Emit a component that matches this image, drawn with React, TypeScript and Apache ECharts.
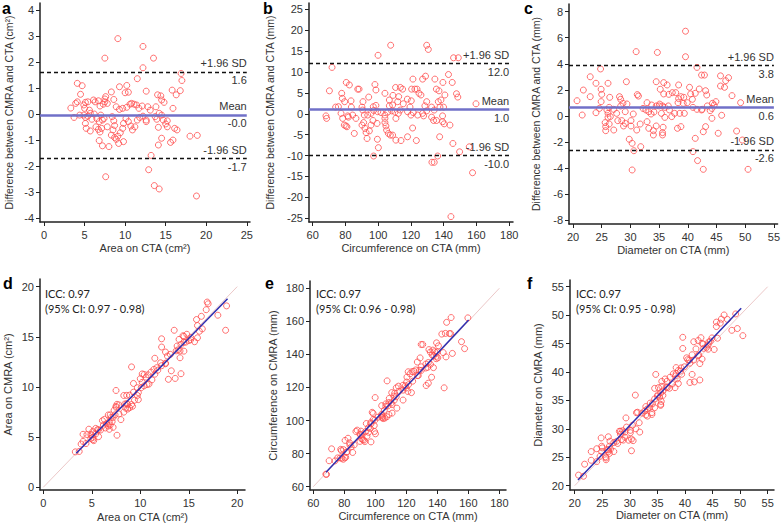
import React, { useEffect, useRef } from "react";
import * as echarts from "echarts";

const FONT = "'Liberation Sans', Arial, Helvetica, sans-serif";
const ICC_FONT = "Lato, 'Open Sans', sans-serif";

// ---- Data (x = value on CTA, diff = CMRA - CTA) ----
const areaCta = [9.1,12.2,7.5,13.5,12.2,11.5,16.9,17.0,4.1,4.7, 10.2,9.3,4.5,7.6,7.5,8.6,8.3,10.0,10.4,12.6, 14.0,14.4,15.8,16.8,16.3,14.5,14.8,3.3,3.9,4.1, 4.9,5.1,5.0,5.4,5.6,6.1,6.3,6.7,6.9,7.3, 7.5,7.8,8.9,9.3,9.7,10.2,10.6,10.8,11.1,11.4, 11.7,12.1,12.8,13.1,13.8,14.2,15.9,3.7,4.4,4.9, 5.1,5.4,5.7,5.9,6.2,6.5,6.8,7.0,7.2,7.4, 5.1,5.2,5.7,6.4,6.7,6.9,7.1,7.8,8.4,8.6, 8.7,8.5,8.3,8.7,8.9,9.1,9.4,9.7,9.8,10.1, 10.4,10.7,10.9,11.2,11.5,11.8,12.2,12.6,12.6,13.7, 13.9,14.1,14.5,14.7,15.0,15.2,15.2,16.1,16.4,14.5, 14.1,15.9,15.6,18.0,18.9,6.8,7.2,8.0,9.2,9.8, 13.2,12.9,7.6,13.6,14.2,18.8];
const areaDiff = [2.9,2.6,2.15,2.15,1.78,1.36,1.56,1.29,1.18,1.09, 1.1,1.05,0.76,0.67,0.58,0.56,0.85,0.82,0.84,0.88, 0.74,0.7,0.92,0.9,0.74,0.54,0.45,0.23,0.41,0.47, 0.35,0.45,0.22,0.47,0.15,0.54,0.47,0.51,0.31,0.38, 0.47,0.41,0.28,0.18,0.22,0.26,0.38,0.41,0.38,0.35, 0.22,0.31,0.28,0.15,0.28,0.03,0.22,-0.13,-0.04,-0.04, -0.13,-0.08,0.03,-0.2,0.0,-0.17,-0.29,-0.04,-0.23,-0.17, -0.36,-0.55,-0.65,-0.49,-0.59,-0.69,-0.55,-0.49,-0.1,-0.26, -0.44,-0.61,-0.81,-0.9,-0.97,-0.85,-0.72,-0.55,-0.36,-0.17, -0.29,-0.46,-0.61,-0.49,-0.23,-0.13,-0.08,-0.23,-0.29,-0.1, -0.2,-0.51,-0.04,-0.23,-0.38,-0.49,-0.26,-0.55,-0.61,-0.93, -1.19,-1.0,-1.09,-0.85,-0.82,-1.02,-1.22,-1.25,-1.13,-1.06, -1.59,-2.14,-2.41,-2.75,-2.88,-3.15];

const circCta = [107.6,129.6,130.6,99.9,146.0,148.9,71.8,142.9,128.9,127.1, 121.2,134.6,80.5,82.4,98.0,110.6,113.5,114.9,120.4,122.4, 123.7,135.5,137.1,139.5,145.2,88.3,87.5,98.6,70.2,77.7, 104.1,109.0,112.5,124.9,126.1,140.7,147.8,148.6,94.2,78.1, 79.5,83.4,90.7,106.8,111.9,117.8,120.2,129.6,136.7,138.3, 74.0,75.7,83.6,90.1,97.0,98.6,106.8,108.8,115.3,119.4, 128.5,132.6,137.7,139.9,159.7,68.1,68.5,77.3,78.3,81.4, 81.8,84.4,86.4,90.5,91.5,93.6,95.6,97.2,99.7,101.7, 104.1,104.1,105.8,108.2,110.2,110.8,112.3,113.5,117.9,120.0, 121.4,124.1,127.1,127.7,129.6,132.6,134.2,139.3,79.3,80.3, 80.9,85.4,90.1,91.1,91.9,92.6,93.2,94.6,95.6,96.8, 99.3,99.5,100.1,97.2,104.1,104.7,105.1,106.2,107.4,108.8, 110.8,113.9,117.9,121.0,123.3,133.8,135.6,139.3,140.3,143.8, 137.5,145.6,155.6,149.7,136.3,132.8,134.2,157.6,144.4];
const circDiff = [16.4,16.4,15.4,14.0,13.4,13.4,11.1,9.4,9.0,8.3, 8.3,8.3,7.5,6.9,7.0,6.3,6.3,5.9,5.9,5.9, 5.9,5.9,5.5,7.5,7.5,5.9,5.9,5.7,5.5,4.9, 4.9,4.4,4.1,4.9,4.5,4.5,4.8,4.0,4.0,3.7, 2.9,3.1,2.9,3.3,2.9,3.5,3.1,2.9,2.9,3.3, 1.6,1.7,1.6,1.6,1.7,2.0,1.9,2.1,2.4,1.6, 1.9,1.6,1.6,1.6,2.4,-0.5,-1.1,0.1,-1.1,-0.5, -0.8,-0.3,-1.1,0.9,-0.3,-0.3,0.1,0.8,0.5,0.3, -0.3,-1.1,0.4,0.7,0.4,-1.1,0.1,0.9,0.5,-0.3, 0.3,-0.3,0.1,-0.5,0.7,-0.8,0.9,-0.5,-2.7,-2.9, -3.1,-4.7,-2.7,-2.1,-3.5,-4.5,-5.9,-4.1,-2.7,-1.6, -2.3,-6.1,-8.1,-10.1,-2.1,-2.9,-3.9,-4.7,-5.1,-5.1, -6.3,-6.4,-5.5,-3.4,-6.4,-1.6,-1.6,-1.9,-2.4,-2.7, -5.5,-7.1,-7.9,-9.1,-10.1,-11.6,-11.6,-14.1,-24.6];

const diamCta = [39.6,31.0,34.7,39.6,24.8,41.6,23.0,42.4,42.9,45.7, 47.1,46.6,21.8,24.0,26.1,29.3,34.5,35.8,36.4,38.4, 40.3,41.3,42.0,43.1,43.3,45.7,46.4,47.7,23.0,24.9, 25.0,26.4,28.1,28.3,31.2,31.4,32.2,32.9,35.1,35.2, 35.8,36.7,37.3,37.9,38.8,39.3,40.5,40.8,38.4,20.7, 24.9,28.7,29.4,33.7,34.5,35.0,35.6,36.6,38.3,39.2, 39.9,40.9,42.5,43.4,44.3,44.9,44.6,44.2,49.2,24.6, 24.0,21.6,25.9,26.3,26.1,27.1,28.3,27.6,29.1,30.5, 32.7,33.2,33.6,34.1,35.4,36.0,36.8,37.7,38.6,39.4, 41.6,42.4,43.9,45.9,36.0,37.2,44.2,26.1,26.5,25.6, 25.7,25.7,26.3,27.1,27.8,28.5,28.8,29.1,30.1,30.1, 31.7,31.1,32.9,33.2,34.0,34.5,35.7,35.6,35.6,34.0, 38.2,38.8,43.1,42.7,45.3,48.5,41.3,29.8,30.3,31.8, 49.5,30.6,40.9,41.7,30.3,42.7,50.5];
const diamDiff = [6.5,4.93,4.87,4.54,3.6,3.72,3.0,3.13,3.13,3.07, 2.93,2.7,1.98,2.5,2.5,2.62,2.62,2.55,2.37,2.37, 2.19,1.73,2.06,1.93,1.6,2.29,2.19,1.55,1.47,2.04, 1.65,1.42,1.47,1.27,1.63,1.52,0.57,1.01,0.9,2.04, 1.68,1.65,1.78,1.78,1.47,1.42,1.68,1.27,1.32,1.16, 1.09,0.96,0.91,0.83,0.76,0.76,0.76,0.76,1.01,0.96, 1.01,0.65,0.5,0.76,0.96,1.09,0.83,0.57,1.01,0.57, 0.24,0.06,0.45,0.65,0.19,0.5,0.75,0.19,0.32,0.14, 0.45,0.32,0.14,0.29,0.19,0.65,0.45,0.19,0.19,0.19, 0.5,0.45,0.4,0.04,-0.12,-0.06,-0.19,-0.12,-0.06,-0.52, -0.83,-1.14,-0.63,-1.09,-0.37,-0.37,-0.78,-0.58,-0.37,-0.78, -0.63,-1.09,-0.45,-0.96,-1.14,-0.78,-0.88,-1.29,-1.47,-1.47, -0.96,-0.83,-0.83,-1.22,-1.34,-1.17,-1.73,-1.8,-2.11,-2.37, -1.86,-2.68,-2.75,-3.44,-4.16,-4.11,-4.11];

// Bland–Altman limits: [+1.96 SD, mean, -1.96 SD] and their printed labels
const areaLimits = [1.62, -0.03, -1.71];
const areaLimitLabels = ["1.6", "-0.0", "-1.7"];
const circLimits = [12.0, 1.0, -10.0];
const circLimitLabels = ["12.0", "1.0", "-10.0"];
const diamLimits = [3.85, 0.63, -2.62];
const diamLimitLabels = ["3.8", "0.6", "-2.6"];

// Identity and regression lines for correlation plots
const areaIdentity = [[0, 0], [20, 20]];
const areaRegression = [[3.4, 3.4], [19.0, 18.8]];
const circIdentity = [[60, 60], [180, 180]];
const circRegression = [[68.2, 68.7], [160.2, 160.8]];
const diamIdentity = [[20, 20], [55, 55]];
const diamRegression = [[20.6, 21.0], [50.2, 51.2]];

const iccLines = [
  ["ICC: 0.97", "(95% CI: 0.97 - 0.98)"],
  ["ICC: 0.97", "(95% CI: 0.96 - 0.98)"],
  ["ICC: 0.97", "(95% CI: 0.95 - 0.98)"],
];

// Tick values
const range = (a: number, b: number, s: number) => { const r: number[] = []; for (let v = a; v <= b + 1e-9; v += s) r.push(+v.toFixed(4)); return r; };
const aXTicks = range(0, 25, 5), aYTicks = range(-4, 4, 1);
const bXTicks = range(60, 180, 20), bYTicks = range(-25, 25, 5);
const cXTicks = range(20, 55, 5), cYTicks = range(-8, 8, 2);
const dXTicks = range(0, 20, 5), dYTicks = range(0, 20, 5);
const eXTicks = range(60, 180, 20), eYTicks = range(60, 180, 20);
const fXTicks = range(20, 55, 5), fYTicks = range(20, 55, 5);

// ---- Layout ----
const panels = [
  { grid: { left: 40, top: 3, width: 210, height: 219 }, x: [-0.5, 25.4, aXTicks, "Area on CTA (cm²)", 20, 11], y: [-4.15, 4.27, aYTicks, "Difference between CMRA and CTA (cm²)", 26, 10.5] },
  { grid: { left: 309, top: 3, width: 204, height: 219 }, x: [57.74, 182.3, bXTicks, "Circumference on CTA (mm)", 20, 11], y: [-25.89, 26.51, bYTicks, "Difference between CMRA and CTA (mm)", 34, 10.5] },
  { grid: { left: 569, top: 4, width: 209, height: 220 }, x: [19.3, 55.64, cXTicks, "Diameter on CTA (mm)", 20, 11], y: [-8.31, 8.59, cYTicks, "Difference between CMRA and CTA (mm)", 28, 10.5] },
  { grid: { left: 40, top: 279, width: 205, height: 212 }, x: [-0.34, 20.8, dXTicks, "Area on CTA (cm²)", 21, 11], y: [-0.27, 20.76, dYTicks, "Area on CMRA (cm²)", 27, 11] },
  { grid: { left: 310, top: 281, width: 196, height: 209 }, x: [57.87, 184.3, eXTicks, "Circumference on CTA (mm)", 20, 11], y: [58.0, 184.4, eYTicks, "Circumference on CMRA (mm)", 32, 11] },
  { grid: { left: 570, top: 280, width: 204, height: 210 }, x: [19.15, 56.15, fXTicks, "Diameter on CTA (mm)", 19, 11], y: [19.24, 56.18, fYTicks, "Diameter on CMRA (mm)", 27, 11] },
];

const makeAxis = (gridIndex: number, spec: any[], isY: boolean) => ({
  type: "value",
  gridIndex,
  min: spec[0],
  max: spec[1],
  name: spec[3],
  nameLocation: "middle",
  nameGap: spec[4],
  nameTextStyle: { fontSize: spec[5], color: "#333", fontFamily: FONT },
  axisLine: { show: true, onZero: false, lineStyle: { color: "#222", width: 1.5 } },
  axisTick: { show: true, length: 4, customValues: spec[2], lineStyle: { color: "#222", width: 1 } },
  axisLabel: { customValues: spec[2], fontSize: 11, color: "#333", fontFamily: FONT, margin: isY ? 6 : 7 },
  splitLine: { show: false },
});

const RED = "#ff4d4d";

const scatter = (i: number, data: number[][]) => ({
  type: "scatter",
  xAxisIndex: i,
  yAxisIndex: i,
  data,
  symbol: "circle",
  symbolSize: 6,
  itemStyle: { color: "rgba(0,0,0,0)", borderColor: RED, borderWidth: 1 },
  z: 3,
});

const limitLines = (xmin: number, xmax: number, vals: number[], texts: string[]) => {
  const dashed = { type: [4, 3], color: "#111", width: 1.3, opacity: 1 };
  const hidden = { type: "solid", color: "rgba(0,0,0,0)", width: 0, opacity: 1 };
  const blue = { type: "solid", color: "#7070c8", width: 2.5, opacity: 1 };
  const mk = (y: number, text: string, pos: string, style: any) => [
    {
      coord: [xmin, y],
      lineStyle: style,
      label: { show: true, formatter: text, position: pos, distance: [0, 3], fontSize: 11, color: "#333", fontFamily: FONT, opacity: 1 },
    },
    { coord: [xmax, y] },
  ];
  return [
    mk(vals[0], "+1.96 SD", "insideEndTop", dashed),
    mk(vals[0], texts[0], "insideEndBottom", hidden),
    mk(vals[1], "Mean", "insideEndTop", blue),
    mk(vals[1], texts[1], "insideEndBottom", hidden),
    mk(vals[2], "-1.96 SD", "insideEndTop", dashed),
    mk(vals[2], texts[2], "insideEndBottom", hidden),
  ];
};

const baSeries = (i: number, cta: number[], diff: number[], lim: number[], labels: string[], xmin: number, xmax: number) => ({
  ...scatter(i, cta.map((x, k) => [x, diff[k]])),
  markLine: { silent: true, symbol: ["none", "none"], animation: false, data: limitLines(xmin, xmax, lim, labels) },
});

const lineSeries = (i: number, data: number[][], color: string, width: number, z: number) => ({
  type: "line",
  xAxisIndex: i,
  yAxisIndex: i,
  data,
  showSymbol: false,
  symbol: "none",
  lineStyle: { color, width },
  z,
  silent: true,
});

const corr = (cta: number[], diff: number[]) => cta.map((x, k) => [x, +(x + diff[k]).toFixed(2)]);

const letters = [
  { t: "a", x: 2, y: 8 },
  { t: "b", x: 263, y: 8 },
  { t: "c", x: 524, y: 8 },
  { t: "d", x: 3, y: 283 },
  { t: "e", x: 265, y: 283 },
  { t: "f", x: 527, y: 283 },
];
const iccPos = [45, 316, 576];

const option: any = {
  animation: false,
  backgroundColor: "#fff",
  grid: panels.map((p) => ({ ...p.grid, containLabel: false })),
  xAxis: panels.map((p, i) => makeAxis(i, p.x, false)),
  yAxis: panels.map((p, i) => makeAxis(i, p.y, true)),
  series: [
    baSeries(0, areaCta, areaDiff, areaLimits, areaLimitLabels, -0.5, 25),
    baSeries(1, circCta, circDiff, circLimits, circLimitLabels, 57.74, 180),
    baSeries(2, diamCta, diamDiff, diamLimits, diamLimitLabels, 19.3, 55),
    lineSeries(3, areaIdentity, "#ecc8c8", 1, 1),
    scatter(3, corr(areaCta, areaDiff)),
    lineSeries(3, areaRegression, "#2e2eb0", 1.5, 4),
    lineSeries(4, circIdentity, "#ecc8c8", 1, 1),
    scatter(4, corr(circCta, circDiff)),
    lineSeries(4, circRegression, "#2e2eb0", 1.5, 4),
    lineSeries(5, diamIdentity, "#ecc8c8", 1, 1),
    scatter(5, corr(diamCta, diamDiff)),
    lineSeries(5, diamRegression, "#2e2eb0", 1.5, 4),
  ],
  graphic: [
    ...letters.map((l) => ({
      type: "text",
      x: l.x,
      y: l.y,
      style: { text: l.t, font: `bold 16px ${FONT}`, fill: "#000", textVerticalAlign: "middle" },
    })),
    ...iccLines.flatMap((lines, i) => [
      { type: "text", x: iccPos[i], y: 293.5, style: { text: lines[0], font: `11px ${ICC_FONT}`, fill: "#222", textVerticalAlign: "middle" } },
      { type: "text", x: iccPos[i], y: 308, style: { text: lines[1], font: `11px ${ICC_FONT}`, fill: "#222", textVerticalAlign: "middle" } },
    ]),
  ],
};

export default function App() {
  const ref = useRef<HTMLDivElement>(null);
  useEffect(() => {
    const chart = echarts.init(ref.current!, null, { renderer: "svg" });
    chart.setOption(option);
    return () => chart.dispose();
  }, []);
  return (
    <div
      ref={ref}
      style={{ position: "absolute", left: 0, top: 0, width: 783, height: 523, background: "#fff" }}
    />
  );
}
